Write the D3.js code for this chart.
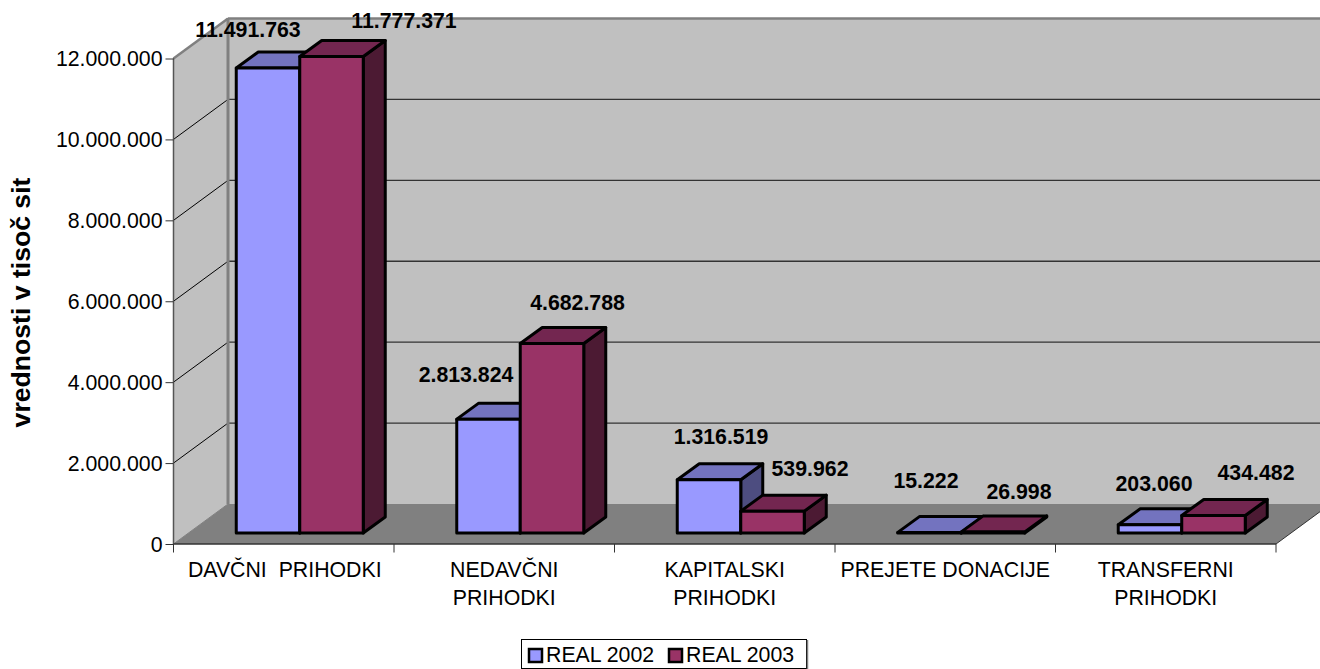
<!DOCTYPE html>
<html><head><meta charset="utf-8">
<style>html,body{margin:0;padding:0;background:#fff}svg{display:block}text{font-family:"Liberation Sans",Arial,sans-serif;fill:#000}</style>
<script src="https://cdn.jsdelivr.net/npm/d3@7"></script></head><body>
<script>
const categories=[["DAVČNI  PRIHODKI"],["NEDAVČNI","PRIHODKI"],["KAPITALSKI","PRIHODKI"],["PREJETE DONACIJE"],["TRANSFERNI","PRIHODKI"]];
const real2002=[11491763,2813824,1316519,15222,203060];
const real2003=[11777371,4682788,539962,26998,434482];
const seriesNames=["REAL 2002","REAL 2003"];
const yTicks=[0,2000000,4000000,6000000,8000000,10000000,12000000];
const fmt=v=>d3.format(",")(v).replace(/,/g,".");
const W=1320,H=669,x0=173.5,x1=1276,y0=544,yTop=58.5,dx=54.5,dy=40;
const svg=d3.select("body").append("svg").attr("width",W).attr("height",H);
const y=d3.scaleLinear().domain([0,12000000]).range([y0,yTop]);
const x=d3.scaleBand().domain(d3.range(5)).range([x0,x1]);
const poly=(pts,fill,stroke,sw)=>svg.append("polygon").attr("points",pts.map(p=>p.join(",")).join(" ")).attr("fill",fill).attr("stroke",stroke||"none").attr("stroke-width",sw||0).attr("stroke-linejoin","round");
const line=(a,b,c,w)=>svg.append("line").attr("x1",a[0]).attr("y1",a[1]).attr("x2",b[0]).attr("y2",b[1]).attr("stroke",c).attr("stroke-width",w);
poly([[x0+dx,yTop-dy],[x1+dx,yTop-dy],[x1+dx,y0-dy],[x0+dx,y0-dy]],"#c0c0c0");
poly([[x0,yTop],[x0+dx,yTop-dy],[x0+dx,y0-dy],[x0,y0]],"#c0c0c0");
poly([[x0,y0],[x1,y0],[x1+dx,y0-dy],[x0+dx,y0-dy]],"#808080");
yTicks.forEach(t=>{
  if(t>0){line([x0,y(t)],[x0+dx,y(t)-dy],"#000",1);line([x0+dx,y(t)-dy],[x1+dx,y(t)-dy],t===12000000?"#808080":"#333",t===12000000?2.5:1.3);}
});
line([x0,yTop],[x0+dx,yTop-dy],"#808080",2.5);
line([x0+dx,yTop-dy],[x0+dx,y0-dy],"#808080",3);
line([x0,y0],[x0+dx,y0-dy],"#808080",1);
line([x1,y0],[x1+dx,y0-dy],"#333",1);
svg.append("g").attr("transform",`translate(${x0},0)`).call(d3.axisLeft(y).tickValues(yTicks).tickFormat(fmt).tickSize(8).tickPadding(3))
  .call(g=>{g.selectAll("text").attr("font-size",21.3).attr("dy","0.33em").style("font-family","'Liberation Sans'");g.selectAll("line").attr("stroke","#333");g.select(".domain").attr("stroke","#555").attr("stroke-width",1.5).attr("d",`M0,${yTop}V${y0}`);});
const xt=svg.append("g");
d3.range(6).forEach(i=>{const px=x0+i*x.bandwidth();line([px,y0],[px,y0+8.5],"#333",1);});
line([x0,y0],[x1,y0],"#333",1.5);
xt.selectAll("text").data(categories).join("text").attr("text-anchor","middle").attr("font-size",21.3)
 .each(function(d,i){d3.select(this).selectAll("tspan").data(d).join("tspan").attr("x",x(i)+x.bandwidth()/2+ (i===0?1:0)).attr("y",(e,j)=>577+j*28).style("white-space","pre").text(e=>e);});
const bw=63.5,off=16,bdx=22,bdy=16,base=11;
const cols=[["#9999ff","#7373bf","#4d4d80"],["#993366","#732650","#4c1a33"]];
const drawBar=(i,s,v)=>{
  const l=x(i)+x.bandwidth()/2-bw+off+ s*bw, r=l+bw, b=y(0)-base, t=y(v)-base, c=cols[s];
  const sw=3;
  poly([[r,t],[r+bdx,t-bdy],[r+bdx,b-bdy],[r,b]],c[2],"#000",sw);
  poly([[l,t],[l+bdx,t-bdy],[r+bdx,t-bdy],[r,t]],c[1],"#000",sw);
  poly([[l,t],[r,t],[r,b],[l,b]],c[0],"#000",sw);
};
d3.range(5).forEach(i=>{drawBar(i,0,real2002[i]);drawBar(i,1,real2003[i]);});
const lblPos2002=[[248,30],[466,375],[721,437],[926,481],[1154,484]];
const lblPos2003=[[404,21],[577.5,303],[810,469],[1019,492],[1256,473]];
[[real2002,lblPos2002],[real2003,lblPos2003]].forEach(([vals,pos])=>{
  svg.append("g").selectAll("text").data(vals).join("text").attr("x",(d,i)=>pos[i][0]).attr("y",(d,i)=>pos[i][1]+7)
   .attr("text-anchor","middle").attr("font-size",21.3).attr("font-weight","bold").text(fmt);
});
svg.append("text").attr("transform","translate(30,302.5) rotate(-90)").attr("text-anchor","middle").attr("font-size",26.6).attr("font-weight","bold").text("vrednosti v tisoč sit");
svg.append("rect").attr("x",521.5).attr("y",639.5).attr("width",285).attr("height",29).attr("fill","#fff").attr("stroke","#000");
line([807.5,640],[807.5,669],"#808080",1.5);
seriesNames.forEach((n,i)=>{
  const lx=i?669:529;
  svg.append("rect").attr("x",lx).attr("y",649).attr("width",13).attr("height",13).attr("fill",cols[i][0]).attr("stroke","#000").attr("stroke-width",2.5);
  svg.append("text").attr("x",lx+17).attr("y",662).attr("font-size",21.3).text(n);
});
</script></body></html>
